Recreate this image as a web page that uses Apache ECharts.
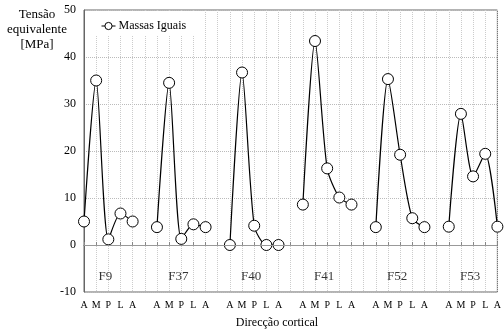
<!DOCTYPE html>
<html>
<head>
<meta charset="utf-8">
<script src="https://cdn.jsdelivr.net/npm/echarts@6/dist/echarts.min.js"></script>
<style>
  html, body { margin: 0; padding: 0; background: #fff; }
  #chart { width: 504px; height: 333px; }
</style>
</head>
<body>
<div id="chart"></div>
<script>
// grupos e direcções
const groups = ["F9", "F37", "F40", "F41", "F52", "F53"];
const dirs = ["A", "M", "P", "L", "A"];

// tensão equivalente [MPa] por grupo
const f9 = [5.0, 35.0, 1.2, 6.7, 5.0];
const f37 = [3.8, 34.5, 1.3, 4.4, 3.8];
const f40 = [0.0, 36.7, 4.1, 0.0, 0.0];
const f41 = [8.6, 43.4, 16.3, 10.1, 8.6];
const f52 = [3.8, 35.3, 19.2, 5.7, 3.8];
const f53 = [3.9, 27.9, 14.6, 19.4, 3.9];
const groupValues = [f9, f37, f40, f41, f52, f53];

const groupLabelValue = -6.8;

// categorias: 5 direcções por grupo, com uma categoria vazia entre grupos
const categories = [];
const tickLabels = [];
const values = [];
const groupLabelData = [];
groups.forEach((g, gi) => {
    if (gi > 0) {
        categories.push("gap" + gi);
        tickLabels.push("");
        values.push(null);
    }
    groupLabelData.push({ value: [categories.length + 2, groupLabelValue], name: g });
    dirs.forEach((d, di) => {
        categories.push(g + " " + d + di);
        tickLabels.push(d);
        values.push(groupValues[gi][di]);
    });
});

const chart = echarts.init(document.getElementById("chart"));
const serif = "Liberation Serif";

chart.setOption({
    animation: false,
    textStyle: { fontFamily: serif },
    grid: {
        left: 84, right: 2, top: 10, bottom: 41,
        show: true, borderColor: "#666", borderWidth: 1
    },
    legend: {
        left: 85, top: 11,
        padding: [9, 8, 4, 16],
        backgroundColor: "#fff",
        itemWidth: 14, itemHeight: 9, itemGap: 3,
        lineStyle: { width: 1 },
        itemStyle: { borderWidth: 1 },
        textStyle: { fontFamily: serif, fontSize: 12, color: "#000", padding: [0, 0, 0, -2] },
        data: ["Massas Iguais"]
    },
    graphic: [
        {
            type: "text", x: 37, y: 7,
            style: {
                text: "Tensão\nequivalente\n[MPa]",
                fontFamily: serif, fontSize: 13, lineHeight: 15,
                align: "center", fill: "#000"
            }
        },
        {
            type: "text", x: 277, y: 317,
            style: {
                text: "Direcção cortical",
                fontFamily: serif, fontSize: 12,
                align: "center", fill: "#000"
            }
        }
    ],
    xAxis: {
        type: "category",
        data: categories,
        boundaryGap: false,
        axisLine: { lineStyle: { color: "#666" } },
        axisTick: { show: true, inside: true, length: 3, interval: 0, lineStyle: { color: "#888" } },
        axisLabel: {
            interval: 0, margin: 8,
            fontFamily: serif, fontSize: 10, color: "#000",
            formatter: (v, i) => tickLabels[i]
        },
        splitLine: { show: true, interval: 0, lineStyle: { color: "#ccc", type: "dotted" } }
    },
    yAxis: {
        type: "value",
        min: -10, max: 50, interval: 10,
        axisLine: { show: true, lineStyle: { color: "#666" } },
        axisTick: { show: false },
        axisLabel: { margin: 8, fontFamily: serif, fontSize: 12, color: "#000" },
        splitLine: { lineStyle: { color: "#bbb", type: "dotted" } }
    },
    series: [
        {
            name: "Massas Iguais",
            type: "line",
            data: values,
            smooth: 0.25,
            connectNulls: false,
            symbol: "circle",
            symbolSize: 11,
            itemStyle: { color: "#fff", borderColor: "#000", borderWidth: 1 },
            lineStyle: { color: "#000", width: 1.2 },
            markLine: {
                silent: true, symbol: "none",
                label: { show: false },
                lineStyle: { color: "#999", type: "solid", width: 1 },
                data: [{ yAxis: 0 }]
            },
            z: 3
        },
        {
            name: "grupos",
            type: "scatter",
            data: groupLabelData,
            symbolSize: 0,
            silent: true,
            label: {
                show: true, position: "inside", offset: [-3, 0],
                formatter: p => p.name,
                fontFamily: serif, fontSize: 13, color: "#000"
            }
        }
    ]
});
</script>
</body>
</html>
